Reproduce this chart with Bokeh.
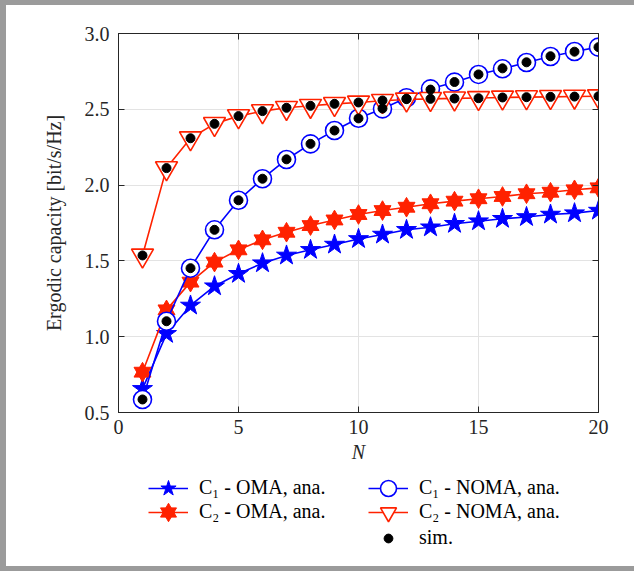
from bokeh.plotting import figure
from bokeh.layouts import column
from bokeh.models import (ColumnDataSource, Range1d, LinearAxis, FixedTicker,
                          Legend, LegendItem)
from bokeh.embed import file_html
from bokeh.resources import INLINE

# ---------------- data ----------------
N = list(range(1, 21))
c1_oma = [0.656, 1.019, 1.206, 1.333, 1.415, 1.485, 1.536, 1.573, 1.608, 1.645,
          1.674, 1.705, 1.722, 1.745, 1.762, 1.778, 1.790, 1.806, 1.815, 1.832]
c2_oma = [0.766, 1.177, 1.360, 1.492, 1.573, 1.639, 1.689, 1.733, 1.770, 1.806,
          1.832, 1.854, 1.877, 1.894, 1.910, 1.925, 1.943, 1.953, 1.969, 1.982]
c1_noma = [0.586, 1.102, 1.452, 1.705, 1.900, 2.042, 2.169, 2.272, 2.360, 2.441,
           2.503, 2.576, 2.635, 2.679, 2.730, 2.767, 2.809, 2.848, 2.881, 2.910]
c2_noma = [1.536, 2.112, 2.309, 2.404, 2.455, 2.488, 2.510, 2.523, 2.536, 2.545,
           2.556, 2.565, 2.569, 2.572, 2.575, 2.578, 2.580, 2.582, 2.584, 2.586]
sim_c1_noma = [0.586, 1.102, 1.452, 1.705, 1.900, 2.042, 2.170, 2.272, 2.360, 2.440,
               2.505, 2.570, 2.630, 2.680, 2.730, 2.770, 2.810, 2.850, 2.880, 2.910]
sim_c2_noma = [1.536, 2.112, 2.309, 2.404, 2.455, 2.488, 2.510, 2.523, 2.536, 2.545,
               2.558, 2.567, 2.569, 2.571, 2.573, 2.578, 2.580, 2.582, 2.584, 2.586]

x_ticks = [0, 5, 10, 15, 20]
y_ticks = [0.5, 1.0, 1.5, 2.0, 2.5, 3.0]
y_tick_labels = ["0.5", "1.0", "1.5", "2.0", "2.5", "3.0"]

labels = ["C\u2081 - OMA, ana.", "C\u2082 - OMA, ana.",
          "C\u2081 - NOMA, ana.", "C\u2082 - NOMA, ana.", "sim."]

# ---------------- style ----------------
BLUE = "#0000ff"
RED = "#ff2200"
AX = "#262626"
GRID = "#e3e3e3"
FONT = "Liberation Serif"
FS = "20px"
LW = 1.6

src = ColumnDataSource(dict(n=N, c1_oma=c1_oma, c2_oma=c2_oma, c1_noma=c1_noma,
                            c2_noma=c2_noma, s1=sim_c1_noma, s2=sim_c2_noma))

p = figure(frame_width=480, frame_height=379,
           min_border_left=112, min_border_right=36,
           min_border_top=28, min_border_bottom=55,
           x_range=Range1d(0, 20), y_range=Range1d(0.5, 3.0),
           output_backend="svg", toolbar_location=None,
           x_axis_label="N", y_axis_label="Ergodic capacity [bit/s/Hz]")

p.outline_line_color = AX
p.outline_line_width = 1
p.background_fill_color = "white"
p.border_fill_color = "white"

for ax in (p.xaxis[0], p.yaxis[0]):
    ax.axis_line_color = AX
    ax.major_tick_line_color = AX
    ax.major_tick_in = 6
    ax.major_tick_out = 0
    ax.minor_tick_line_color = None
    ax.major_label_text_font = FONT
    ax.major_label_text_font_size = FS
    ax.major_label_text_color = AX
    ax.axis_label_text_font = FONT
    ax.axis_label_text_font_size = FS
    ax.axis_label_text_color = AX

p.xaxis[0].ticker = FixedTicker(ticks=x_ticks)
p.yaxis[0].ticker = FixedTicker(ticks=y_ticks)
p.yaxis[0].major_label_overrides = {t: l for t, l in zip(y_ticks, y_tick_labels)}
p.xaxis[0].axis_label_text_font_style = "italic"
p.yaxis[0].axis_label_text_font_style = "normal"
p.xaxis[0].major_label_standoff = 7
p.yaxis[0].major_label_standoff = 9
p.xaxis[0].axis_label_standoff = 4
p.yaxis[0].axis_label_standoff = 17

for loc, tk in (("above", x_ticks), ("right", y_ticks)):
    a = LinearAxis(ticker=FixedTicker(ticks=tk), axis_line_color=AX,
                   major_tick_line_color=AX, major_tick_in=6, major_tick_out=0,
                   minor_tick_line_color=None, major_label_text_font_size="1px",
                   major_label_overrides={t: "" for t in tk},
                   major_label_standoff=0)
    p.add_layout(a, loc)

p.xgrid.ticker = FixedTicker(ticks=x_ticks)
p.ygrid.ticker = FixedTicker(ticks=y_ticks)
p.xgrid.grid_line_color = GRID
p.ygrid.grid_line_color = GRID


def draw(fig, hidden=False):
    v = dict(visible=not hidden)
    g1 = [fig.line("n", "c1_oma", source=src, line_color=BLUE, line_width=LW, **v),
          fig.scatter("n", "c1_oma", source=src, marker="star", size=21,
                      fill_color=BLUE, line_color=BLUE, **v)]
    g2 = [fig.line("n", "c2_oma", source=src, line_color=RED, line_width=LW, **v),
          fig.scatter("n", "c2_oma", source=src, marker="triangle", size=17,
                      fill_color=RED, line_color=RED, **v),
          fig.scatter("n", "c2_oma", source=src, marker="inverted_triangle", size=17,
                      fill_color=RED, line_color=RED, **v)]
    g3 = [fig.line("n", "c1_noma", source=src, line_color=BLUE, line_width=LW, **v),
          fig.scatter("n", "c1_noma", source=src, marker="circle", size=18,
                      fill_color="white", line_color=BLUE, line_width=LW, **v)]
    g4 = [fig.line("n", "c2_noma", source=src, line_color=RED, line_width=LW, **v),
          fig.scatter("n", "c2_noma", source=src, marker="inverted_triangle", size=22,
                      fill_color="white", line_color=RED, line_width=LW, **v)]
    g5 = [fig.scatter("n", "s1", source=src, marker="circle", size=9,
                      fill_color="black", line_color="black", **v),
          fig.scatter("n", "s2", source=src, marker="circle", size=9,
                      fill_color="black", line_color="black", **v)]
    return g1, g2, g3, g4, g5


draw(p)

# ---------------- legend panel ----------------
q = figure(width=628, height=99, min_border=0,
           x_axis_type=None, y_axis_type=None,
           output_backend="svg", toolbar_location=None)
q.outline_line_color = None
q.grid.visible = False
q.background_fill_color = "white"
q.border_fill_color = "white"

g1, g2, g3, g4, g5 = draw(q, hidden=True)

common = dict(orientation="vertical", glyph_width=40,
              spacing=0, label_height=20, label_standoff=11, padding=0,
              margin=0, label_text_font=FONT, label_text_font_size=FS,
              label_text_color="black", border_line_color=None,
              background_fill_alpha=0.0, inactive_fill_alpha=0.0)

entries = [(labels[0], g1, (30, 58.5), 40), (labels[1], g2, (30, 34.5), 40),
           (labels[2], g3, (250, 58.5), 40), (labels[3], g4, (250, 34.5), 40),
           (labels[4], g5[:1], (250, 17), 22)]
for lab, rs, locn, gh in entries:
    q.add_layout(Legend(items=[LegendItem(label=lab, renderers=rs)],
                        location=locn, glyph_height=gh, **common), "center")

layout = column(p, q, spacing=0,
                styles={"border-left": "6px solid #9b9b9b",
                        "border-top": "5px solid #9b9b9b",
                        "border-bottom": "5px solid #9b9b9b",
                        "background-color": "white"})

open("out.html", "w").write(file_html(layout, INLINE))
